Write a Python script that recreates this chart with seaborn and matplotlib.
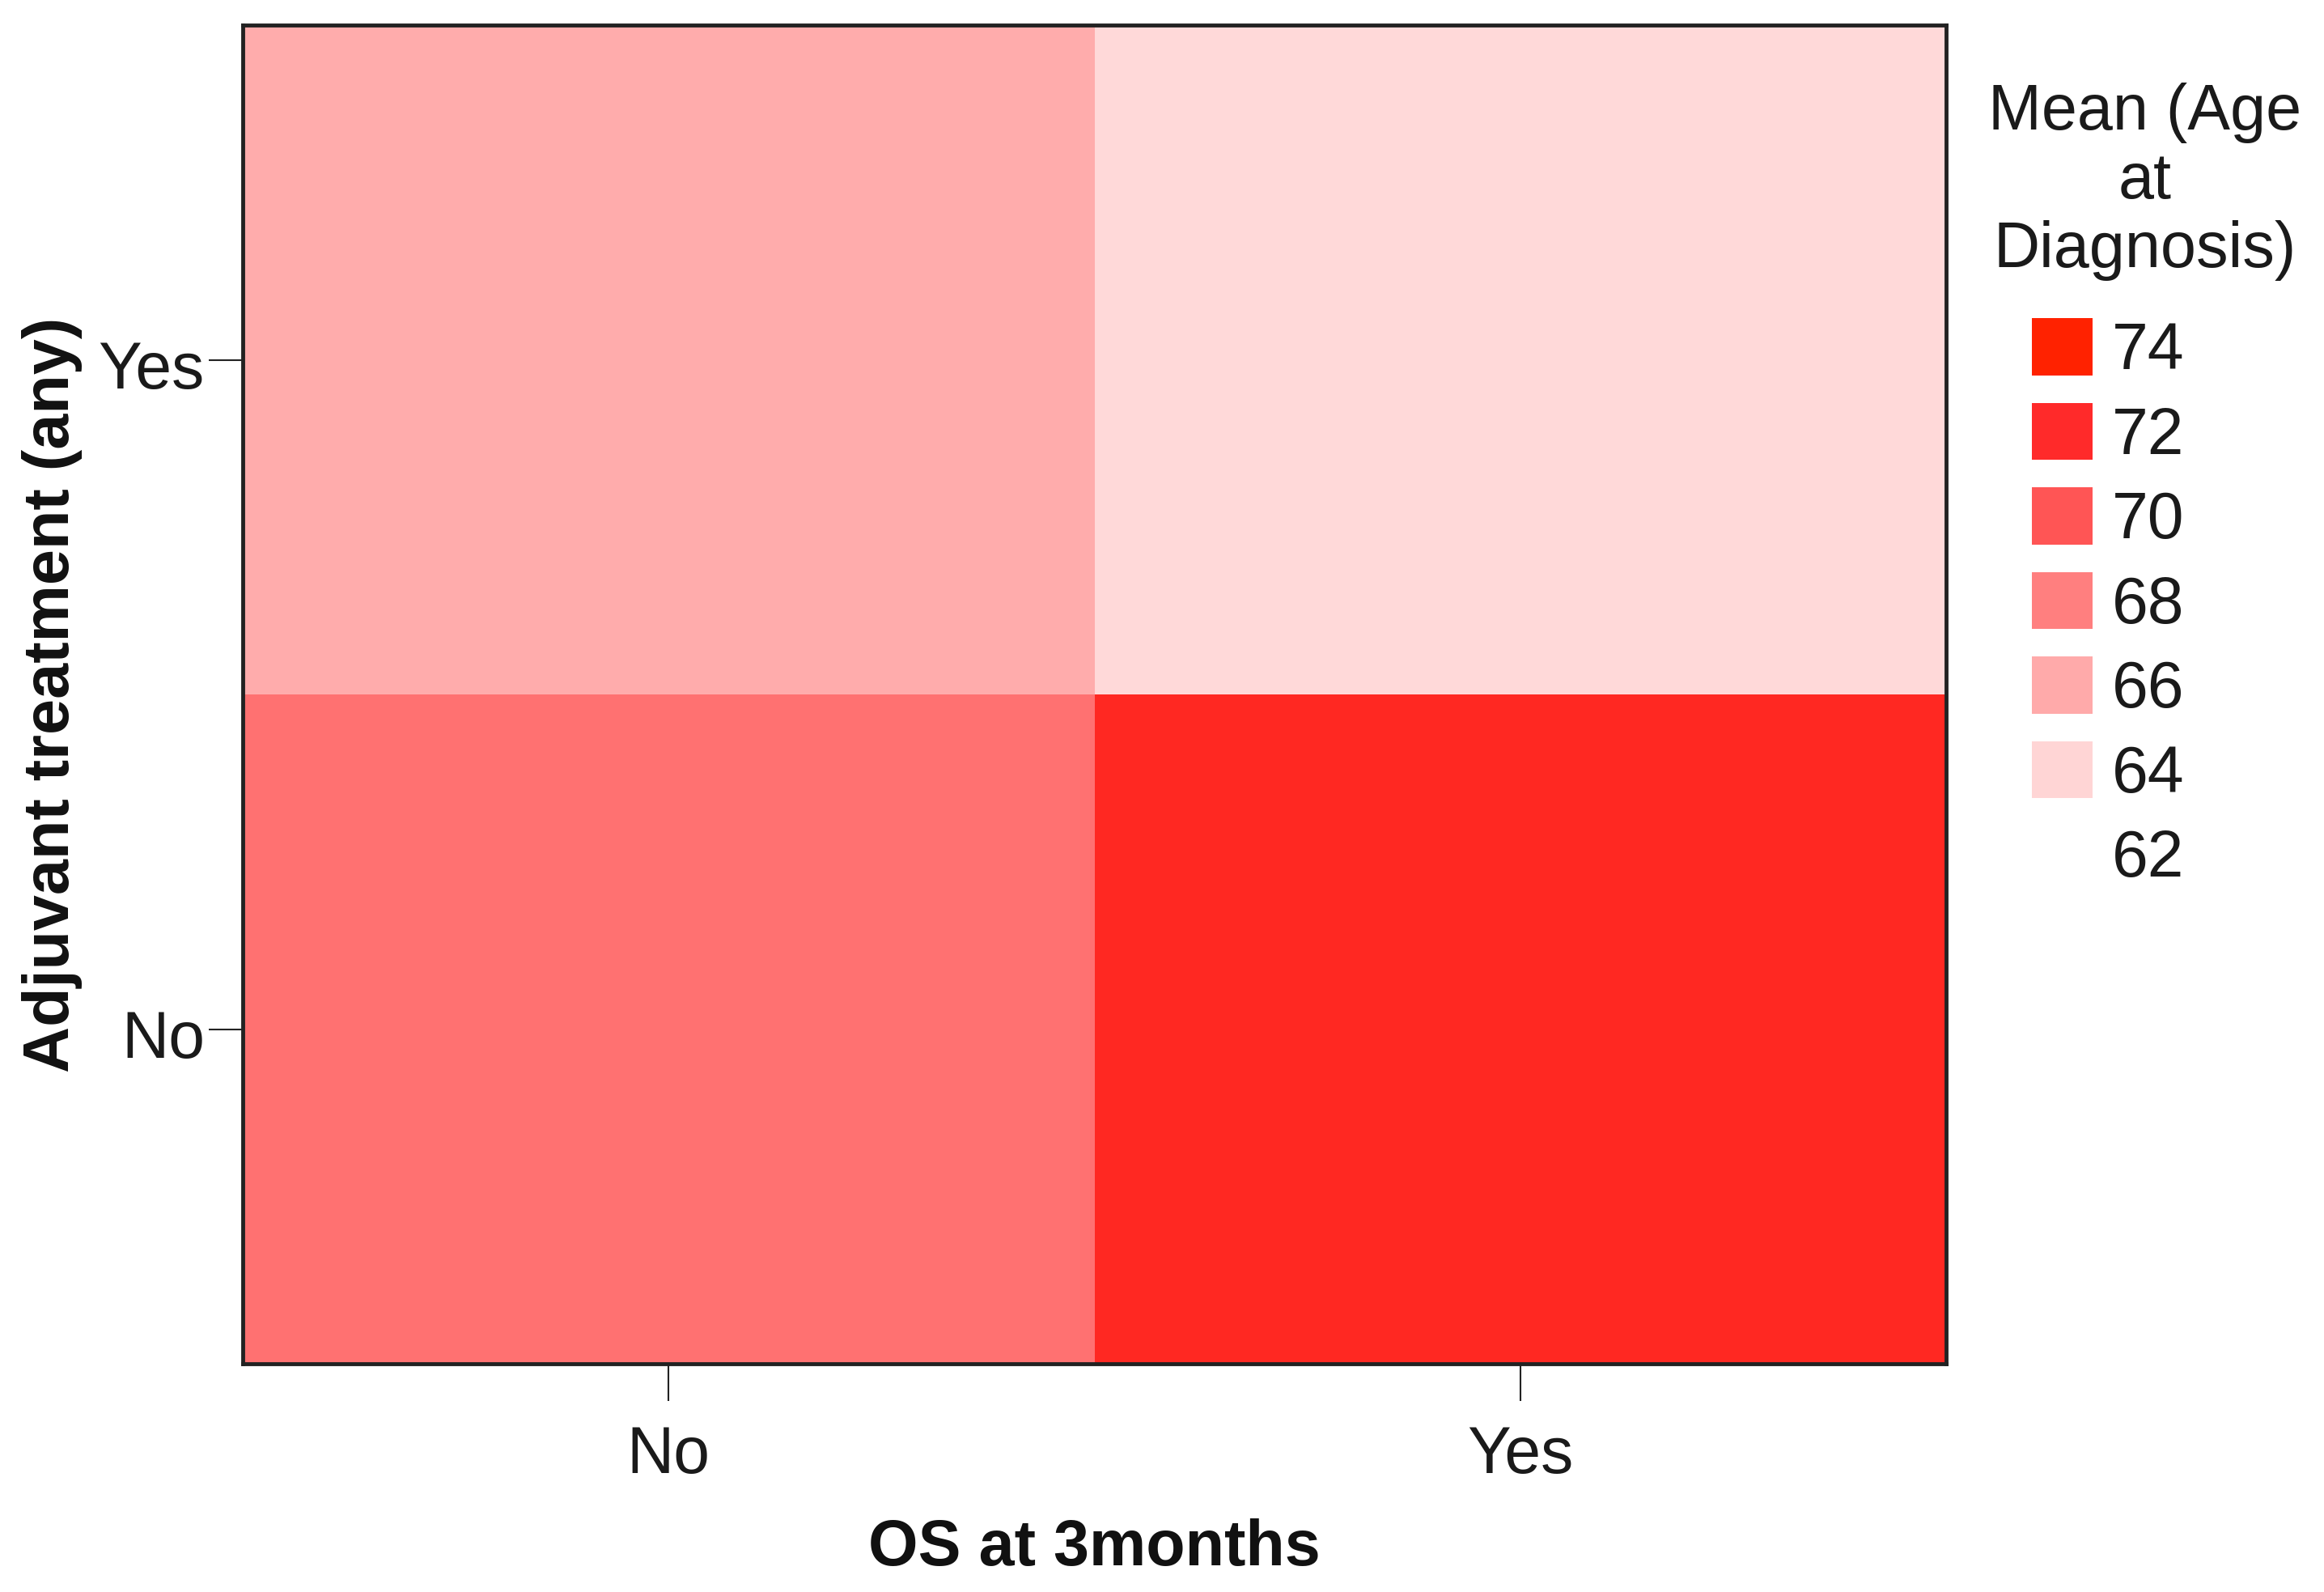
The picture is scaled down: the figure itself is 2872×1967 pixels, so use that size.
import numpy as np
import pandas as pd
import seaborn as sns
import matplotlib
matplotlib.use("Agg")
import matplotlib.pyplot as plt
import matplotlib.transforms as mtransforms
from matplotlib.colors import LinearSegmentedColormap
from matplotlib.patches import Patch

# ---- data ----
os_3months = ["No", "Yes"]            # x categories
adjuvant = ["Yes", "No"]              # y categories (top to bottom)
mean_age_adj_yes = [65.9, 63.8]       # row Adjuvant = Yes
mean_age_adj_no = [68.7, 72.4]        # row Adjuvant = No
legend_values = [74, 72, 70, 68, 66, 64, 62]
legend_title = "Mean (Age\nat\nDiagnosis)"
x_label = "OS at 3months"
y_label = "Adjuvant treatment (any)"

df = pd.DataFrame([mean_age_adj_yes, mean_age_adj_no], index=adjuvant, columns=os_3months)

sns.set_theme(style="white")
plt.rcParams['font.family'] = ['Liberation Sans', 'DejaVu Sans']

vmin, vmax = 62, 74
anchors = [(62, "#ffffff"), (64, "#ffd5d5"), (66, "#ffaaaa"), (68, "#ff8080"),
           (70, "#ff5555"), (72, "#ff2a2a"), (74, "#ff2200")]
cmap = LinearSegmentedColormap.from_list(
    "spss_red", [((v - vmin) / (vmax - vmin), c) for v, c in anchors])

fig = plt.figure(figsize=(28.72, 19.67), dpi=100)
ax = fig.add_axes([0.1045, 0.1434, 0.7329, 0.8406])

sns.heatmap(df, ax=ax, cmap=cmap, vmin=vmin, vmax=vmax, cbar=False,
            linewidths=0, square=False)

for s in ax.spines.values():
    s.set_visible(True)
    s.set_color("#222222")
    s.set_linewidth(3.5)

ax.tick_params(axis="x", which="both", bottom=True, length=33, width=1.5,
               color="#222222", pad=22, labelsize=58, labelcolor="#1a1a1a")
ax.tick_params(axis="y", which="both", left=True, length=30, width=1.5,
               color="#222222", pad=4, labelsize=58, labelcolor="#1a1a1a",
               labelrotation=0)
shift = mtransforms.ScaledTranslation(0, -0.14, fig.dpi_scale_trans)
for lab in ax.get_yticklabels():
    lab.set_va("center")
    lab.set_transform(lab.get_transform() + shift)

ax.set_xlabel(x_label, fontsize=57, fontweight="bold", labelpad=28, color="#111111")
ax.set_ylabel(y_label, fontsize=57, fontweight="bold", color="#111111")
ax.yaxis.set_label_coords(-0.094, 0.5)

handles = []
for v in legend_values:
    if v == vmin:
        handles.append(Patch(facecolor="none", edgecolor="none"))
    else:
        handles.append(Patch(facecolor=cmap((v - vmin) / (vmax - vmin)), edgecolor="none"))

fig.text(0.9228, 0.886, legend_title, ha="center", va="center", fontsize=57,
         linespacing=1.17, color="#1a1a1a", multialignment="center")

leg = fig.legend(handles, [str(v) for v in legend_values],
                 loc="upper left", bbox_to_anchor=(0.8743, 0.800),
                 frameon=False, fontsize=58,
                 handlelength=0.93, handleheight=0.97, handletextpad=0.3,
                 labelspacing=0.305, borderaxespad=0, borderpad=0)
for t in leg.get_texts():
    t.set_color("#1a1a1a")

fig.savefig("out.png", dpi=100, facecolor="white")
